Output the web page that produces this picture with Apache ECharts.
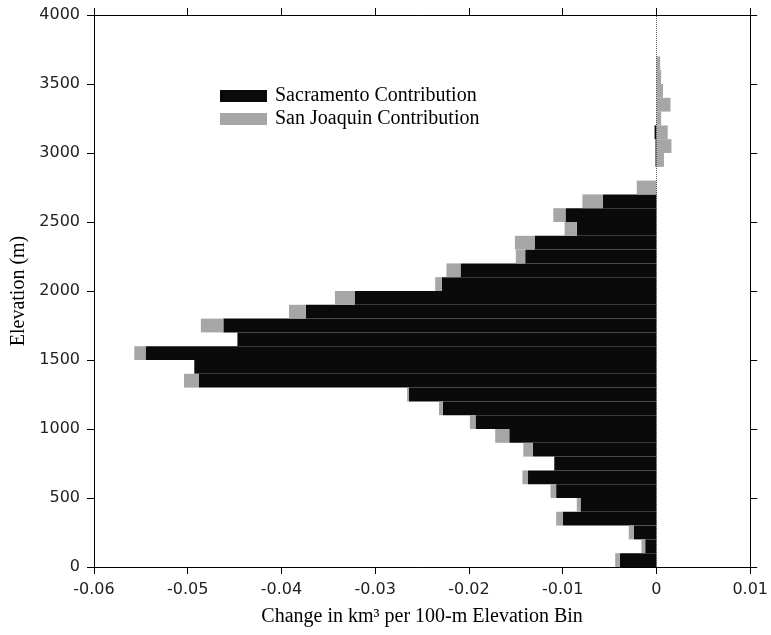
<!DOCTYPE html>
<html>
<head>
<meta charset="utf-8">
<script src="https://cdn.jsdelivr.net/npm/echarts@6/dist/echarts.min.js"></script>
<style>html,body{margin:0;padding:0;background:#fff}#c{width:771px;height:635px}</style>
</head>
<body>
<div id="c"></div>
<script>
// Elevation bins (lower edge, m), 0-100 ... 3900-4000
const bins = ['0','100','200','300','400','500','600','700','800','900',
  '1000','1100','1200','1300','1400','1500','1600','1700','1800','1900',
  '2000','2100','2200','2300','2400','2500','2600','2700','2800','2900',
  '3000','3100','3200','3300','3400','3500','3600','3700','3800','3900'];
// Sacramento contribution (km^3 per 100-m bin)
const sacramento = [-0.0039,-0.0012,-0.0024,-0.0100,-0.0081,-0.0107,-0.0137,-0.0109,-0.0132,-0.0157,
  -0.0193,-0.0228,-0.0264,-0.0488,-0.0493,-0.0545,-0.0447,-0.0462,-0.0374,-0.0322,
  -0.0229,-0.0209,-0.0140,-0.0130,-0.0085,-0.0097,-0.0057,0,0,-0.0001,
  -0.0001,-0.0002,0,0,0,0,0,0,0,0];
// San Joaquin contribution
const sanJoaquin = [-0.0005,-0.0004,-0.00055,-0.0007,-0.0004,-0.0006,-0.0006,0,-0.0010,-0.0015,
  -0.0006,-0.0004,-0.0002,-0.0016,0,-0.0012,0,-0.0024,-0.0018,-0.0021,
  -0.0007,-0.0015,-0.0010,-0.0021,-0.0013,-0.0013,-0.0022,-0.0021,0,0.0008,
  0.0016,0.0012,0.0005,0.0015,0.0007,0.0005,0.0004,0,0,0];

const serif = 'Liberation Serif';
const sans = 'DejaVu Sans';
const chart = echarts.init(document.getElementById('c'));
const tickStyle = {show:true, inside:false, length:7, lineStyle:{color:'#000', width:1}};
chart.setOption({
  animation:false,
  backgroundColor:'#fff',
  grid:{left:94, right:18, top:15, bottom:68},
  legend:{
    orient:'vertical', left:215, top:81, itemWidth:47, itemHeight:12, itemGap:3,
    icon:'rect',
    textStyle:{fontFamily:serif, fontSize:20, color:'#000', padding:[0,0,0,3]},
    data:['Sacramento Contribution','San Joaquin Contribution']
  },
  xAxis:[{
    type:'value', min:-0.06, max:0.01, interval:0.01, position:'bottom',
    splitLine:{show:false},
    axisLine:{show:true, onZero:false, lineStyle:{color:'#000', width:1}},
    axisTick:tickStyle,
    axisLabel:{margin:15, fontFamily:sans, fontSize:16, color:'#222',
      formatter:v=>String(Math.round(v*100)/100)},
    name:'Change in km³ per 100-m Elevation Bin', nameLocation:'middle', nameGap:40,
    nameTextStyle:{fontFamily:serif, fontSize:20, color:'#000'}
  },{
    type:'value', min:-0.06, max:0.01, interval:0.01, position:'top',
    splitLine:{show:false},
    axisLine:{show:true, onZero:false, lineStyle:{color:'#000', width:1}},
    axisTick:tickStyle, axisLabel:{show:false}
  }],
  yAxis:[{
    type:'value', min:0, max:4000, interval:500, position:'left',
    splitLine:{show:false},
    axisLine:{show:true, onZero:false, lineStyle:{color:'#000', width:1}},
    axisTick:tickStyle,
    axisLabel:{margin:14, fontFamily:sans, fontSize:16, color:'#222', formatter:v=>String(v)},
    name:'Elevation (m)', nameLocation:'middle', nameGap:58,
    nameTextStyle:{fontFamily:serif, fontSize:20, color:'#000'}
  },{
    type:'value', min:0, max:4000, interval:500, position:'right',
    splitLine:{show:false},
    axisLine:{show:true, onZero:false, lineStyle:{color:'#000', width:1}},
    axisTick:tickStyle, axisLabel:{show:false}
  },{
    type:'category', data:bins, show:false, boundaryGap:true
  }],
  series:[{
    name:'Sacramento Contribution', type:'bar', stack:'t', yAxisIndex:2, xAxisIndex:0,
    data:sacramento, barCategoryGap:'0%', itemStyle:{color:'#0a0a0a'},
    markLine:{silent:true, symbol:'none', label:{show:false},
      lineStyle:{color:'#555', type:'dotted', width:1}, data:[{xAxis:0}]}
  },{
    name:'San Joaquin Contribution', type:'bar', stack:'t', yAxisIndex:2, xAxisIndex:0,
    data:sanJoaquin, barCategoryGap:'0%', itemStyle:{color:'#a6a6a6'}
  }]
});
</script>
</body>
</html>
